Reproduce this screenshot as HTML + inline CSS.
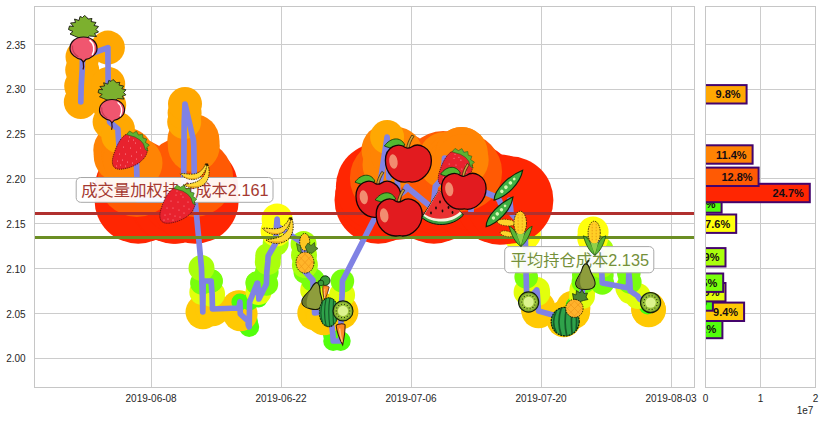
<!DOCTYPE html>
<html lang="zh"><head><meta charset="utf-8"><title>chart</title>
<style>html,body{margin:0;padding:0;background:#fff}svg{display:block}text{font-family:"Liberation Sans","Noto Sans CJK SC",sans-serif}</style></head><body>
<svg width="825" height="422" viewBox="0 0 825 422">
<rect x="0" y="0" width="825" height="422" fill="#ffffff"/>
<defs>
<clipPath id="ca"><rect x="34.5" y="6.5" width="660.0" height="381.0"/></clipPath>
<clipPath id="cb"><rect x="705.5" y="6.5" width="110.0" height="381.0"/></clipPath>
</defs>
<path d="M34.5 358.5H694.5M705.5 358.5H815.5M34.5 313.5H694.5M705.5 313.5H815.5M34.5 268.5H694.5M705.5 268.5H815.5M34.5 223.5H694.5M705.5 223.5H815.5M34.5 178.5H694.5M705.5 178.5H815.5M34.5 134.5H694.5M705.5 134.5H815.5M34.5 89.5H694.5M705.5 89.5H815.5M34.5 44.5H694.5M705.5 44.5H815.5M151.5 6.5V387.5M281.5 6.5V387.5M411.5 6.5V387.5M541.5 6.5V387.5M671.5 6.5V387.5M760.5 6.5V387.5" stroke="#cccccc" stroke-width="1" fill="none"/>
<g clip-path="url(#ca)">
<g fill="#52ff0c"><circle cx="247.9" cy="321.0" r="10.0"/><circle cx="248.3" cy="325.0" r="10.0"/><circle cx="249.2" cy="327.0" r="10.0"/><circle cx="331.4" cy="322.0" r="10.0"/><circle cx="331.8" cy="326.0" r="10.0"/><circle cx="332.8" cy="334.0" r="10.0"/><circle cx="333.2" cy="341.0" r="10.0"/><circle cx="340.7" cy="341.0" r="10.0"/><circle cx="564.8" cy="322.0" r="10.0"/><circle cx="565.2" cy="321.0" r="10.0"/></g>
<g fill="#ffc904"><circle cx="202.8" cy="312.0" r="17.3"/><circle cx="212.5" cy="309.0" r="17.3"/><circle cx="238.6" cy="308.0" r="17.3"/><circle cx="239.0" cy="307.5" r="17.3"/><circle cx="240.3" cy="314.0" r="17.3"/><circle cx="314.6" cy="313.0" r="17.3"/><circle cx="322.1" cy="312.0" r="17.3"/><circle cx="322.5" cy="310.0" r="17.3"/><circle cx="323.5" cy="314.0" r="17.3"/><circle cx="323.9" cy="318.0" r="17.3"/><circle cx="341.1" cy="312.0" r="17.3"/><circle cx="538.2" cy="308.0" r="17.3"/><circle cx="538.6" cy="311.0" r="17.3"/><circle cx="563.5" cy="318.0" r="17.3"/><circle cx="563.9" cy="320.0" r="17.3"/><circle cx="572.8" cy="312.0" r="17.3"/><circle cx="573.1" cy="308.0" r="17.3"/><circle cx="648.4" cy="309.0" r="17.3"/><circle cx="648.7" cy="310.0" r="17.3"/></g>
<g fill="#48ff0c"><circle cx="239.9" cy="302.0" r="8.5"/><circle cx="249.6" cy="302.0" r="8.5"/><circle cx="258.9" cy="299.0" r="8.5"/><circle cx="314.2" cy="300.0" r="8.5"/><circle cx="527.1" cy="301.0" r="8.5"/><circle cx="574.1" cy="306.0" r="8.5"/><circle cx="574.5" cy="305.0" r="8.5"/><circle cx="638.1" cy="297.0" r="8.5"/><circle cx="639.1" cy="298.0" r="8.5"/><circle cx="639.5" cy="299.0" r="8.5"/><circle cx="647.0" cy="303.0" r="8.5"/><circle cx="647.4" cy="306.0" r="8.5"/></g>
<g fill="#e2ff0c"><circle cx="202.3" cy="292.0" r="13.0"/><circle cx="212.1" cy="294.0" r="13.0"/><circle cx="258.5" cy="292.0" r="13.0"/><circle cx="313.2" cy="290.0" r="13.0"/><circle cx="342.1" cy="295.0" r="13.0"/><circle cx="526.6" cy="292.0" r="13.0"/><circle cx="536.8" cy="290.0" r="13.0"/><circle cx="537.2" cy="293.0" r="13.0"/><circle cx="582.0" cy="296.0" r="13.0"/><circle cx="582.4" cy="290.0" r="13.0"/><circle cx="628.4" cy="288.0" r="13.0"/><circle cx="630.2" cy="291.0" r="13.0"/><circle cx="637.7" cy="296.0" r="13.0"/></g>
<g fill="#78ff0c"><circle cx="201.9" cy="283.0" r="11.8"/><circle cx="203.2" cy="281.0" r="11.8"/><circle cx="210.8" cy="281.0" r="11.8"/><circle cx="211.1" cy="281.0" r="11.8"/><circle cx="257.2" cy="283.0" r="11.8"/><circle cx="257.6" cy="283.0" r="11.8"/><circle cx="266.4" cy="284.0" r="11.8"/><circle cx="266.8" cy="272.0" r="11.8"/><circle cx="305.3" cy="272.0" r="11.8"/><circle cx="312.9" cy="280.0" r="11.8"/><circle cx="342.4" cy="281.0" r="11.8"/><circle cx="526.2" cy="277.0" r="11.8"/><circle cx="583.4" cy="282.0" r="11.8"/><circle cx="583.8" cy="275.0" r="11.8"/><circle cx="601.9" cy="275.0" r="11.8"/><circle cx="602.3" cy="283.0" r="11.8"/><circle cx="628.8" cy="273.0" r="11.8"/><circle cx="629.8" cy="282.0" r="11.8"/></g>
<g fill="#aaff0c"><circle cx="201.5" cy="268.0" r="13.0"/><circle cx="267.8" cy="262.0" r="13.0"/><circle cx="268.2" cy="256.0" r="13.0"/><circle cx="275.7" cy="243.0" r="13.0"/><circle cx="303.6" cy="244.0" r="13.0"/><circle cx="304.0" cy="255.0" r="13.0"/><circle cx="304.9" cy="265.0" r="13.0"/><circle cx="525.8" cy="262.0" r="13.0"/><circle cx="591.3" cy="262.0" r="13.0"/><circle cx="591.7" cy="250.0" r="13.0"/><circle cx="600.6" cy="250.0" r="13.0"/><circle cx="601.0" cy="265.0" r="13.0"/></g>
<g fill="#ffff0c"><circle cx="276.1" cy="231.0" r="15.5"/><circle cx="277.1" cy="219.0" r="15.5"/><circle cx="277.5" cy="226.0" r="15.5"/><circle cx="517.1" cy="220.0" r="15.5"/><circle cx="517.4" cy="225.0" r="15.5"/><circle cx="518.4" cy="230.0" r="15.5"/><circle cx="518.8" cy="235.0" r="15.5"/><circle cx="525.3" cy="234.5" r="15.5"/><circle cx="592.7" cy="238.0" r="15.5"/><circle cx="593.1" cy="232.0" r="15.5"/></g>
<g fill="#52ff0c"><circle cx="377.8" cy="212.0" r="10.0"/><circle cx="433.5" cy="209.0" r="10.0"/><circle cx="471.0" cy="212.0" r="10.0"/><circle cx="500.2" cy="203.0" r="10.0"/><circle cx="509.3" cy="212.0" r="10.0"/><circle cx="510.6" cy="208.0" r="10.0"/><circle cx="511.0" cy="213.0" r="10.0"/></g>
<g fill="#ff2602"><circle cx="137.8" cy="190.0" r="43.7"/><circle cx="138.2" cy="200.0" r="43.7"/><circle cx="173.6" cy="200.0" r="43.7"/><circle cx="174.0" cy="194.0" r="43.7"/><circle cx="175.0" cy="196.0" r="43.7"/><circle cx="175.4" cy="200.0" r="43.7"/><circle cx="183.3" cy="192.0" r="43.7"/><circle cx="194.7" cy="188.0" r="43.7"/><circle cx="195.1" cy="200.0" r="43.7"/><circle cx="378.2" cy="200.0" r="43.7"/><circle cx="379.2" cy="192.0" r="43.7"/><circle cx="379.6" cy="186.5" r="43.7"/><circle cx="397.7" cy="187.0" r="43.7"/><circle cx="398.1" cy="196.0" r="43.7"/><circle cx="405.7" cy="190.0" r="43.7"/><circle cx="406.1" cy="188.0" r="43.7"/><circle cx="407.0" cy="186.5" r="43.7"/><circle cx="407.4" cy="187.5" r="43.7"/><circle cx="433.9" cy="200.0" r="43.7"/><circle cx="434.9" cy="190.0" r="43.7"/><circle cx="435.3" cy="186.5" r="43.7"/><circle cx="470.6" cy="188.0" r="43.7"/><circle cx="472.0" cy="195.0" r="43.7"/><circle cx="472.4" cy="187.0" r="43.7"/><circle cx="498.5" cy="198.0" r="43.7"/><circle cx="498.9" cy="200.0" r="43.7"/><circle cx="499.8" cy="201.0" r="43.7"/><circle cx="509.7" cy="200.0" r="43.7"/></g>
<g fill="#ff5a04"><circle cx="136.9" cy="178.0" r="39.0"/><circle cx="183.7" cy="176.0" r="39.0"/><circle cx="194.3" cy="178.0" r="39.0"/><circle cx="388.9" cy="178.0" r="39.0"/><circle cx="396.8" cy="170.0" r="39.0"/><circle cx="442.8" cy="178.0" r="39.0"/><circle cx="443.2" cy="170.0" r="39.0"/><circle cx="453.4" cy="170.0" r="39.0"/><circle cx="453.8" cy="172.0" r="39.0"/><circle cx="463.1" cy="172.0" r="39.0"/></g>
<g fill="#ff8404"><circle cx="119.3" cy="150.0" r="26.0"/><circle cx="119.7" cy="156.0" r="26.0"/><circle cx="127.2" cy="154.0" r="26.0"/><circle cx="127.6" cy="156.0" r="26.0"/><circle cx="128.6" cy="158.0" r="26.0"/><circle cx="129.0" cy="160.0" r="26.0"/><circle cx="136.5" cy="163.0" r="26.0"/><circle cx="193.4" cy="140.0" r="26.0"/><circle cx="193.8" cy="146.0" r="26.0"/><circle cx="387.5" cy="150.0" r="26.0"/><circle cx="388.5" cy="165.0" r="26.0"/><circle cx="396.4" cy="153.0" r="26.0"/><circle cx="444.2" cy="162.0" r="26.0"/><circle cx="444.5" cy="158.0" r="26.0"/><circle cx="452.1" cy="160.0" r="26.0"/><circle cx="452.5" cy="165.0" r="26.0"/><circle cx="461.4" cy="153.0" r="26.0"/><circle cx="461.8" cy="153.0" r="26.0"/><circle cx="462.7" cy="160.0" r="26.0"/></g>
<g fill="#ffa802"><circle cx="80.8" cy="102.0" r="17.0"/><circle cx="81.2" cy="86.0" r="17.0"/><circle cx="82.2" cy="70.0" r="17.0"/><circle cx="82.5" cy="57.0" r="17.0"/><circle cx="107.9" cy="47.6" r="17.0"/><circle cx="108.2" cy="84.0" r="17.0"/><circle cx="109.2" cy="105.0" r="17.0"/><circle cx="109.6" cy="122.0" r="17.0"/><circle cx="117.9" cy="129.0" r="17.0"/><circle cx="118.3" cy="136.0" r="17.0"/><circle cx="184.2" cy="122.0" r="17.0"/><circle cx="184.6" cy="113.0" r="17.0"/><circle cx="185.0" cy="104.0" r="17.0"/><circle cx="387.1" cy="137.0" r="17.0"/></g>
<path d="M80.8 102.0L81.2 86.0L82.2 70.0L82.5 57.0L107.9 47.6L108.2 84.0L109.2 105.0L109.6 122.0L117.9 129.0L118.3 136.0L119.3 150.0L119.7 156.0L127.2 154.0L127.6 156.0L128.6 158.0L129.0 160.0L136.5 163.0L136.9 178.0L137.8 190.0L138.2 200.0L173.6 200.0L174.0 194.0L175.0 196.0L175.4 200.0L183.3 192.0L183.7 176.0L184.2 122.0L184.6 113.0L185.0 104.0L193.4 140.0L193.8 146.0L194.3 178.0L194.7 188.0L195.1 200.0L201.5 268.0L201.9 283.0L202.3 292.0L202.8 312.0L203.2 281.0L210.8 281.0L211.1 281.0L212.1 294.0L212.5 309.0L238.6 308.0L239.0 307.5L239.9 302.0L240.3 314.0L247.9 321.0L248.3 325.0L249.2 327.0L249.6 302.0L257.2 283.0L257.6 283.0L258.5 292.0L258.9 299.0L266.4 284.0L266.8 272.0L267.8 262.0L268.2 256.0L275.7 243.0L276.1 231.0L277.1 219.0L277.5 226.0L303.6 244.0L304.0 255.0L304.9 265.0L305.3 272.0L312.9 280.0L313.2 290.0L314.2 300.0L314.6 313.0L322.1 312.0L322.5 310.0L323.5 314.0L323.9 318.0L331.4 322.0L331.8 326.0L332.8 334.0L333.2 341.0L340.7 341.0L341.1 312.0L342.1 295.0L342.4 281.0L377.8 212.0L378.2 200.0L379.2 192.0L379.6 186.5L387.1 137.0L387.5 150.0L388.5 165.0L388.9 178.0L396.4 153.0L396.8 170.0L397.7 187.0L398.1 196.0L405.7 190.0L406.1 188.0L407.0 186.5L407.4 187.5L433.5 209.0L433.9 200.0L434.9 190.0L435.3 186.5L442.8 178.0L443.2 170.0L444.2 162.0L444.5 158.0L452.1 160.0L452.5 165.0L453.4 170.0L453.8 172.0L461.4 153.0L461.8 153.0L462.7 160.0L463.1 172.0L470.6 188.0L471.0 212.0L472.0 195.0L472.4 187.0L498.5 198.0L498.9 200.0L499.8 201.0L500.2 203.0L509.3 212.0L509.7 200.0L510.6 208.0L511.0 213.0L517.1 220.0L517.4 225.0L518.4 230.0L518.8 235.0L525.3 234.5L525.8 262.0L526.2 277.0L526.6 292.0L527.1 301.0L536.8 290.0L537.2 293.0L538.2 308.0L538.6 311.0L563.5 318.0L563.9 320.0L564.8 322.0L565.2 321.0L572.8 312.0L573.1 308.0L574.1 306.0L574.5 305.0L582.0 296.0L582.4 290.0L583.4 282.0L583.8 275.0L591.3 262.0L591.7 250.0L592.7 238.0L593.1 232.0L600.6 250.0L601.0 265.0L601.9 275.0L602.3 283.0L628.4 288.0L628.8 273.0L629.8 282.0L630.2 291.0L637.7 296.0L638.1 297.0L639.1 298.0L639.5 299.0L647.0 303.0L647.4 306.0L648.4 309.0L648.7 310.0" fill="none" stroke="#8082e4" stroke-width="5.7" stroke-linejoin="round" stroke-linecap="round"/>
<path d="M34.5 213.5H694.5" stroke="#b0302e" stroke-width="3"/>
<path d="M34.5 237.4H694.5" stroke="#6b8e23" stroke-width="3"/>
</g>
<rect x="76.2" y="177.5" width="196.8" height="24.8" rx="4.5" ry="4.5" fill="#ffffff" fill-opacity="0.94" stroke="#a8a8a8" stroke-width="1"/>
<text x="81.3" y="196.3" font-size="16.3" fill="#a53a32">成交量加权持仓成本2.161</text>
<rect x="504.7" y="246.6" width="149.1" height="26.2" rx="4.5" ry="4.5" fill="#ffffff" fill-opacity="0.94" stroke="#a8a8a8" stroke-width="1"/>
<text x="510.6" y="265.8" font-size="16.3" fill="#74903a">平均持仓成本2.135</text>
<defs>
<g id="radish"><path d="M-3,-10 L-9,-12.5 -13.5,-14.5 -10.5,-17 -15,-19 -14,-22.5 -10,-22 -13,-25.5 -8,-26 -9,-29.5 -4.5,-28 -3.5,-32 -1,-31 1,-33 3,-31.5 4.5,-29.5 8.5,-30 7.5,-27 12.5,-26 10.5,-23 15,-22 12.5,-19 15,-16.5 11,-15 13,-12 6,-12.5 3,-10Z" fill="#7cb02e" stroke="#1a1a10" stroke-width="0.9" stroke-linejoin="round"/><path d="M0,10.5 C-1.5,14 1.5,17 -0.5,21" fill="none" stroke="#3a0a14" stroke-width="1.3"/><path d="M0,-11.5 C8,-11.5 13.5,-6.5 13.5,0 C13.5,6 7,10 2.5,10.8 L0,13.5 L-2.5,10.8 C-7,10 -13.5,6 -13.5,0 C-13.5,-6.5 -8,-11.5 0,-11.5Z" fill="#f0566f" stroke="#1a0a0e" stroke-width="1.2"/><path d="M6.5,-8 C10.5,-5 11.5,1 9,6" fill="none" stroke="#ffffff" stroke-width="1.6" stroke-linecap="round"/><path d="M-11,-3 C-11.5,2 -9,6 -5,8.5" fill="none" stroke="#c83a55" stroke-width="1.2"/></g>
<g id="straw"><path d="M-5.5,-16 C2,-19.5 12,-16.5 16.5,-4 C18,3 13.5,8 9,11.5 C2,16.5 -8,19 -13,18 C-18,17 -19,12 -17.5,6 C-15,-3 -11,-12 -5.5,-16Z" fill="#e8222e" stroke="#5a0a10" stroke-width="0.9" stroke-dasharray="1.2 0.9"/><path d="M-4,-16.5 L-1,-20 2.5,-17.8 6,-19.8 8,-16 12,-16.8 12.5,-13 16.2,-12 15,-8.5 18.8,-6 16,-3 17.6,0 14.8,-1.5 13,-7 9.5,-11 4.5,-14 0,-15.3Z" fill="#5cb233" stroke="#2a5a14" stroke-width="0.6" stroke-linejoin="round"/><g fill="#ff9aa8"><circle cx="-2" cy="-10" r="0.55"/><circle cx="5" cy="-8" r="0.55"/><circle cx="10" cy="-3" r="0.55"/><circle cx="-7" cy="-4" r="0.55"/><circle cx="0" cy="-3" r="0.55"/><circle cx="6" cy="1" r="0.55"/><circle cx="11" cy="4" r="0.55"/><circle cx="-11" cy="3" r="0.55"/><circle cx="-5" cy="3" r="0.55"/><circle cx="1" cy="5" r="0.55"/><circle cx="6" cy="8" r="0.55"/><circle cx="-13" cy="10" r="0.55"/><circle cx="-8" cy="9" r="0.55"/><circle cx="-3" cy="11" r="0.55"/><circle cx="2" cy="12" r="0.55"/><circle cx="-10" cy="14" r="0.55"/><circle cx="-5" cy="15" r="0.55"/><circle cx="-14" cy="15" r="0.55"/><circle cx="-1" cy="-14" r="0.55"/><circle cx="3" cy="-11" r="0.55"/></g></g>
<g id="banana"><path d="M-12.5,9 C-6,13.5 4,14 10.5,7.5 C14.5,3 16,-4 13.5,-12.5 L11.2,-11.5 C12,-5 9.5,0.5 4.5,4 C-0.5,7.5 -8,8 -12.5,9Z" fill="#ffd935" stroke="#2a1a00" stroke-width="0.9" stroke-dasharray="1.6 1"/><path d="M-11,9.6 C-5,12.8 3,13 9,7.8 C4,11 -4,11.3 -11,9.6Z" fill="#e8a11c"/><path d="M-16,-2.6 C-10.5,3.5 0,6.5 6.5,-0.5 C10.2,-4.5 12.2,-9 12.8,-13.2 L10.6,-12.8 C9,-8 4.5,-3 -2,-2.4 C-8,-1.8 -13,-3.6 -16,-2.6Z" fill="#ffd935" stroke="#2a1a00" stroke-width="0.9" stroke-dasharray="1.6 1"/><path d="M-14,-1.2 C-9,3.4 -1,5.2 5,-0.2 C0,3.4 -8,2.6 -14,-1.2Z" fill="#e8a11c"/><path d="M10.4,-13.6 L13.8,-13.4 13.4,-11 10.8,-11.4Z" fill="#2a1a00"/></g>
<g id="apple"><path d="M-3.5,-18.5 C-8,-27.5 -18,-26 -24,-17.5 C-17,-14.5 -9,-14 -3.5,-18.5Z" fill="#52b830" stroke="#143c0a" stroke-width="0.9"/><path d="M-2,-14.5 C-1.5,-19 0.5,-24 3.5,-28.5 L5.6,-27.2 C2.8,-23 1,-19 0.6,-14.5Z" fill="#c8a03c" stroke="#3c2a0a" stroke-width="0.8"/><path d="M-3,-16 C-10,-21.5 -23,-17 -23,-3 C-23,10 -13,18.6 -4,18.6 C-1.5,18.6 1,17.6 3,18.6 C12,19 23,10 23,-3 C23,-16 10,-21.5 3,-16.5 C1,-15.3 -1,-15 -3,-16Z" fill="#e21b1f" stroke="#140404" stroke-width="1.3"/><ellipse cx="-15" cy="-2" rx="4.2" ry="7.2" fill="#f28c70" transform="rotate(-8 -15 -2)"/></g>
<g id="kiwi"><circle r="10.5" fill="#7ea92f" stroke="#14200a" stroke-width="1.2"/><circle r="8.6" fill="#9cc43a"/><circle r="5.4" fill="#dcf38e"/><g fill="#14200a"><circle cx="7.20" cy="0.00" r="0.6"/><circle cx="6.49" cy="3.12" r="0.6"/><circle cx="4.49" cy="5.63" r="0.6"/><circle cx="1.60" cy="7.02" r="0.6"/><circle cx="-1.60" cy="7.02" r="0.6"/><circle cx="-4.49" cy="5.63" r="0.6"/><circle cx="-6.49" cy="3.12" r="0.6"/><circle cx="-7.20" cy="0.00" r="0.6"/><circle cx="-6.49" cy="-3.12" r="0.6"/><circle cx="-4.49" cy="-5.63" r="0.6"/><circle cx="-1.60" cy="-7.02" r="0.6"/><circle cx="1.60" cy="-7.02" r="0.6"/><circle cx="4.49" cy="-5.63" r="0.6"/><circle cx="6.49" cy="-3.12" r="0.6"/></g></g>
<g id="melon"><ellipse rx="14" ry="14.3" fill="#2fa24a" stroke="#0a1a0a" stroke-width="1.2" stroke-dasharray="2 0.8"/><path d="M-9,-10.5 C-12.5,-3 -12.5,4 -9,10.5 M-4,-13.5 C-7,-4 -7,5 -4,13.5 M1.5,-14 C-0.5,-5 -0.5,5 1.5,14 M7,-12.2 C6,-4 6,5 7,12.2 M11,-8.5 C11.5,-3 11.5,3 11,8.5" fill="none" stroke="#145a28" stroke-width="1.7"/></g>
<g id="pear"><path d="M0.5,-11.5 C3.5,-11.5 4,-7 5.5,-3 C7.5,1.5 10.5,5 10,9.5 C9.5,13.5 5,15 0,15 C-5,15 -9.5,13.5 -10,9.5 C-10.5,5 -6.5,1.5 -4.5,-3 C-3,-7 -2.5,-11.5 0.5,-11.5Z" fill="#8e9d3c" stroke="#14160a" stroke-width="1.1"/><path d="M-3.6,-5 C-5,0 -9.5,4.5 -9,9.5 C-8.6,12.5 -6,14 -2.5,14.6 C-6,11 -6.5,5 -3.6,-5Z" fill="#6c7a2c"/><path d="M0.5,-11.5 C0.8,-13.5 2,-15 3.2,-15.6 L4.4,-14.6 C3,-13.8 2.2,-12.6 2,-11Z" fill="#2a2a14"/></g>
<g id="carrot"><path d="M-4,0.5 C-4,-1.5 4,-1.5 4,0.5 C3.6,7 2,13 0.6,18 C-1.6,13 -3.6,7 -4,0.5Z" fill="#ff8a26" stroke="#3c1a04" stroke-width="0.9"/><path d="M-1,3 C-1,8 -0.4,12 0.4,15" fill="none" stroke="#ffc078" stroke-width="1.2"/></g>
<g id="pod"><path d="M-17.5,1.6 C-11,-5.4 6,-6 18,-2 C9,5.6 -8,6.4 -17.5,1.6Z" fill="#3fb043" stroke="#0a280a" stroke-width="1"/><g fill="#d4f5b0"><circle cx="-7.5" cy="0.2" r="1.5"/><circle cx="-2.5" cy="-0.2" r="1.6"/><circle cx="2.8" cy="-0.5" r="1.5"/><circle cx="7.5" cy="-0.9" r="1.2"/></g></g>
<g id="corn"><ellipse rx="6.1" ry="11.6" fill="#ffcf26" stroke="#2a1a00" stroke-width="0.9" stroke-dasharray="1.4 1"/><path d="M-2,-9 V9 M2,-9 V9" stroke="#e89a14" stroke-width="0.9" stroke-dasharray="1.5 1.5" fill="none"/><path d="M-10.8,3 C-8,4 -5.5,6.5 -3.5,10.5 C-1.5,14 -0.4,17.5 0.6,22.5 C-4.5,19 -8.5,12 -10.8,3Z" fill="#5bb535" stroke="#1a4a0a" stroke-width="0.8"/><path d="M11.6,3 C8.6,4 6,6.5 4,10.5 C2.2,14 1.4,17.5 0.8,22.5 C5.6,19 9.4,12 11.6,3Z" fill="#5bb535" stroke="#1a4a0a" stroke-width="0.8"/><path d="M-3.8,9 C-1.5,11 1.8,11 4.2,9 C3,14 1.6,18 0.7,22 C-0.6,18 -2.4,14 -3.8,9Z" fill="#8fd14a"/></g>
</defs>
<use href="#radish" transform="translate(83.5 48.5)"/>
<use href="#radish" transform="translate(112.0 110.2) scale(0.93)"/>
<use href="#straw" transform="translate(130.5 151.0)"/>
<use href="#straw" transform="translate(178.0 205.0)"/>
<use href="#banana" transform="translate(195.3 176.3) scale(0.94)"/>
<use href="#banana" transform="translate(278.5 231.0)"/>
<g><ellipse cx="304.7" cy="242" rx="5" ry="8.6" fill="#ffc722" stroke="#1a1400" stroke-width="0.9" stroke-dasharray="1.5 1"/><path d="M296.5,243.5 L300.5,246 301.5,253 298,251Z" fill="#6aa23a" stroke="#1a3a0a" stroke-width="0.6"/><path d="M305.3,247 L308,243 311,245.5 314.5,242.5 315,246.5 318,248.5 314.5,251 312,253.5 307.5,252Z" fill="#5a8c30" stroke="#1a3a0a" stroke-width="0.6" stroke-linejoin="round"/><ellipse cx="305" cy="262.6" rx="9" ry="10.6" fill="#ffb52a" stroke="#1a1400" stroke-width="0.9" stroke-dasharray="1.5 1"/><path d="M299,256 L311,269 M297,261 L306,272 M304,253 L313,263 M311,256 L299,269 M313,261 L304,272 M306,253 L297,263" stroke="#f09a1a" stroke-width="0.7" fill="none"/></g>
<use href="#pear" transform="translate(314.0 294.0) rotate(13) scale(1.02)"/>
<circle cx="325.2" cy="280.6" r="4.8" fill="#3a9a3a" stroke="#0a280a" stroke-width="0.9"/><circle cx="321.0" cy="283.0" r="2.8" fill="#3a9a3a" stroke="#0a280a" stroke-width="0.7"/>
<use href="#carrot" transform="translate(326.0 286.5) rotate(8) scale(0.78)"/>
<use href="#melon" transform="translate(328.8 312.2) scale(0.68 1.01)"/>
<use href="#kiwi" transform="translate(343.0 310.9) scale(0.95)"/>
<use href="#carrot" transform="translate(340.6 325.0) rotate(-4) scale(1.12)"/>
<use href="#apple" transform="translate(378.4 199.2) scale(0.975)"/>
<use href="#apple" transform="translate(399.2 217.4)"/>
<use href="#apple" transform="translate(408.4 163.5)"/>
<use href="#straw" transform="translate(456.0 168.0) scale(0.98)"/>
<g><path d="M439,190.5 L421.8,217.5 C432,227 452,227.5 463.5,215Z" fill="#3ea043" stroke="#0a1a0a" stroke-width="1"/><path d="M439,190.5 L423.4,215.8 C433,223.8 452,223.8 461.8,213.4Z" fill="#f4f4e0"/><path d="M439,190.5 L424.6,214.2 C434,220.8 451,220.6 460.2,211.6Z" fill="#e93030"/><g fill="#1a0a0a"><ellipse cx="436" cy="208" rx="0.9" ry="1.4"/><ellipse cx="442.5" cy="211" rx="0.9" ry="1.4"/><ellipse cx="448.5" cy="207.5" rx="0.9" ry="1.4"/><ellipse cx="431" cy="213" rx="0.9" ry="1.4"/><ellipse cx="452.5" cy="212.5" rx="0.9" ry="1.4"/><ellipse cx="440" cy="202" rx="0.9" ry="1.4"/></g></g>
<use href="#apple" transform="translate(463.8 191.2) scale(0.97)"/>
<use href="#pod" transform="translate(508.3 185.5) rotate(-40.5) scale(1.16)"/>
<use href="#pod" transform="translate(499.5 212.2) rotate(-42) scale(1.12)"/>
<ellipse cx="506.5" cy="222.6" rx="9.3" ry="3.2" fill="#ffd52a" stroke="#3a2a00" stroke-width="0.7" stroke-dasharray="1.4 1" transform="rotate(6 506.5 222.6)"/><ellipse cx="506.8" cy="233.8" rx="6.6" ry="2.7" fill="#ffd52a" stroke="#3a2a00" stroke-width="0.7" stroke-dasharray="1.4 1" transform="rotate(12 506.8 233.8)"/>
<use href="#corn" transform="translate(520.2 223.2) scale(1.03)"/>
<use href="#kiwi" transform="translate(528.6 302.0) scale(0.96)"/>
<use href="#melon" transform="translate(565.2 321.6)"/>
<g><path d="M573.5,299 L572.5,293.5 576,295 576.5,290.5 580,293 582,289.5 584,293.5 587.5,293 586,297 588,299.5 583.5,300.5 579,302Z" fill="#4c8332" stroke="#142a0a" stroke-width="0.7" stroke-linejoin="round"/><ellipse cx="574.4" cy="308.4" rx="8.7" ry="9" fill="#ffb22c" stroke="#1a1400" stroke-width="0.9" stroke-dasharray="1.5 1"/><path d="M569,303 L580,314 M567,308 L575,316.5 M574,300.5 L582,309 M580,303 L569,314 M582,308 L574,316.5 M575,300.5 L567,309" stroke="#f0981a" stroke-width="0.7" fill="none"/></g>
<use href="#pear" transform="translate(585.4 275.0) scale(0.97)"/>
<use href="#corn" transform="translate(594.2 232.8)"/>
<use href="#kiwi" transform="translate(650.6 302.6) scale(0.96)"/>
<rect x="34.5" y="6.5" width="660.0" height="381.0" fill="none" stroke="#c6c6c6" stroke-width="1"/>
<g clip-path="url(#cb)" font-size="11" font-weight="bold" text-anchor="end" fill="#140c14">
<rect x="702.5" y="319.8" width="19.9" height="18.4" fill="#52ff0c" stroke="#44046c" stroke-width="2"/>
<text x="716.4" y="333.0">4.2%</text>
<rect x="702.5" y="302.6" width="41.6" height="18.4" fill="#ffc904" stroke="#44046c" stroke-width="2"/>
<text x="738.1" y="315.8">9.4%</text>
<rect x="702.5" y="292.3" width="10.4" height="18.4" fill="#48ff0c" stroke="#44046c" stroke-width="2"/>
<text x="706.9" y="305.5">1.9%</text>
<rect x="702.5" y="283.0" width="23.0" height="18.4" fill="#e2ff0c" stroke="#44046c" stroke-width="2"/>
<text x="719.5" y="296.2">4.9%</text>
<rect x="702.5" y="273.5" width="20.7" height="18.4" fill="#78ff0c" stroke="#44046c" stroke-width="2"/>
<text x="717.2" y="286.7">4.5%</text>
<rect x="702.5" y="248.1" width="23.0" height="18.4" fill="#aaff0c" stroke="#44046c" stroke-width="2"/>
<text x="719.5" y="261.3">4.9%</text>
<rect x="702.5" y="214.5" width="33.7" height="18.4" fill="#ffff0c" stroke="#44046c" stroke-width="2"/>
<text x="730.2" y="227.7">7.6%</text>
<rect x="702.5" y="194.3" width="19.1" height="18.4" fill="#52ff0c" stroke="#44046c" stroke-width="2"/>
<text x="715.6" y="207.5">4.0%</text>
<rect x="702.5" y="183.8" width="107.3" height="18.4" fill="#ff2602" stroke="#44046c" stroke-width="2"/>
<text x="803.8" y="197.0">24.7%</text>
<rect x="702.5" y="167.6" width="56.1" height="18.4" fill="#ff5a04" stroke="#44046c" stroke-width="2"/>
<text x="752.6" y="180.8">12.8%</text>
<rect x="702.5" y="145.3" width="50.1" height="18.4" fill="#ff8404" stroke="#44046c" stroke-width="2"/>
<text x="746.6" y="158.5">11.4%</text>
<rect x="702.5" y="85.1" width="44.1" height="18.4" fill="#ffa802" stroke="#44046c" stroke-width="2"/>
<text x="740.6" y="98.3">9.8%</text>
</g>
<rect x="705.5" y="6.5" width="110.0" height="381.0" fill="none" stroke="#c6c6c6" stroke-width="1"/>
<g font-size="10" fill="#262626">
<text x="25.6" y="362.4" text-anchor="end">2.00</text>
<text x="25.6" y="317.6" text-anchor="end">2.05</text>
<text x="25.6" y="272.7" text-anchor="end">2.10</text>
<text x="25.6" y="227.9" text-anchor="end">2.15</text>
<text x="25.6" y="183.1" text-anchor="end">2.20</text>
<text x="25.6" y="138.2" text-anchor="end">2.25</text>
<text x="25.6" y="93.4" text-anchor="end">2.30</text>
<text x="25.6" y="48.6" text-anchor="end">2.35</text>
<text x="151.1" y="402.2" text-anchor="middle">2019-06-08</text>
<text x="281.1" y="402.2" text-anchor="middle">2019-06-22</text>
<text x="411.1" y="402.2" text-anchor="middle">2019-07-06</text>
<text x="541.1" y="402.2" text-anchor="middle">2019-07-20</text>
<text x="671.1" y="402.2" text-anchor="middle">2019-08-03</text>
<text x="705.5" y="402.2" text-anchor="middle">0</text>
<text x="760.5" y="402.2" text-anchor="middle">1</text>
<text x="815.5" y="402.2" text-anchor="middle">2</text>
<text x="813.4" y="413.8" text-anchor="end">1e7</text>
</g>
</svg></body></html>
